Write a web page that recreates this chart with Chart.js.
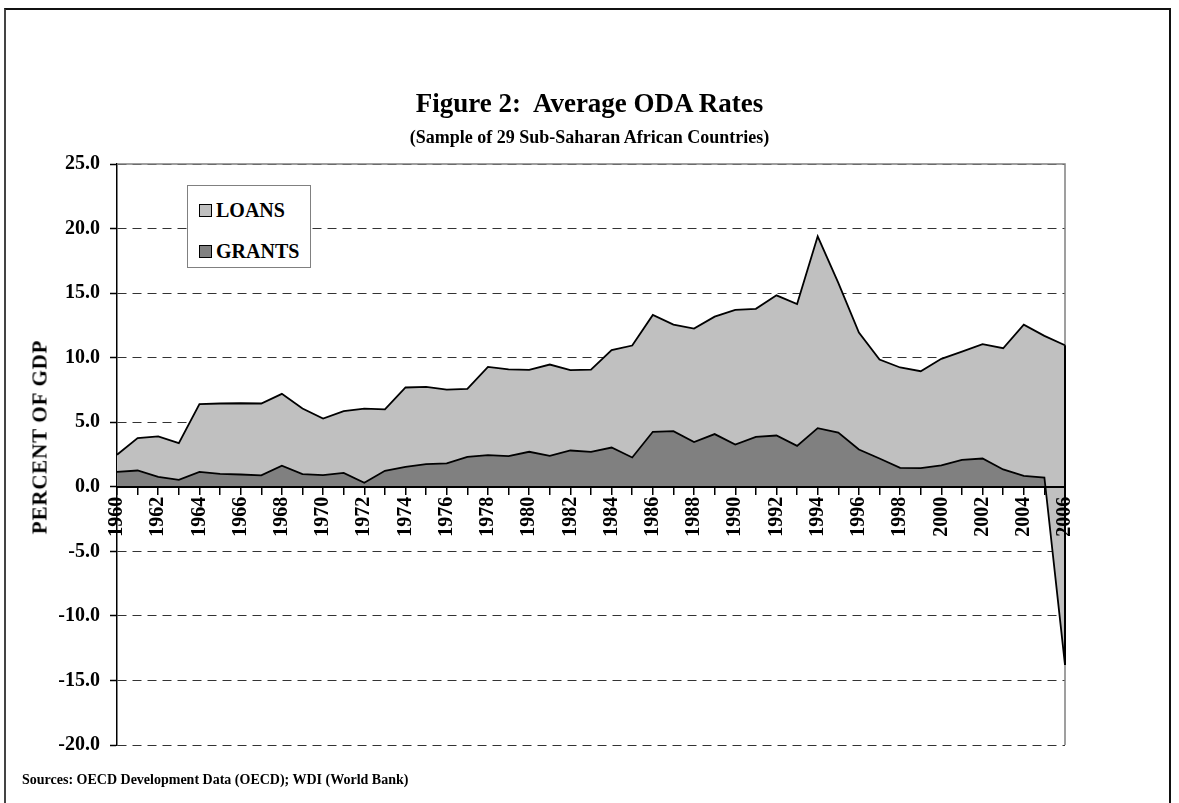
<!DOCTYPE html>
<html>
<head>
<meta charset="utf-8">
<script src="https://cdn.jsdelivr.net/npm/chart.js"></script>
<style>
  html, body { margin: 0; padding: 0; background: #fff; }
  body { width: 1179px; height: 803px; overflow: hidden; position: relative; font-family: "Liberation Serif", "Times New Roman", serif; font-weight: bold; color: #000; }
  #frame { position: absolute; left: 4px; top: 8px; width: 1167px; height: 900px; border: 2px solid #111; border-left-color: #444; box-sizing: border-box; }
  #chart { position: absolute; left: 0; top: 0; }
  .txt { position: absolute; white-space: nowrap; }
  #title { left: 0; width: 1179px; text-align: center; top: 90px; font-size: 27px; line-height: 27px; }
  #subtitle { left: 0; width: 1179px; text-align: center; top: 128px; font-size: 18px; line-height: 18px; }
  #ytitle { left: 40px; top: 437px; font-size: 21px; line-height: 21px; letter-spacing: 0.8px; transform: translate(-50%, -50%) rotate(-90deg); }
  #sources { left: 22px; top: 773px; font-size: 14px; line-height: 14px; }
  #legend { position: absolute; left: 187px; top: 185px; width: 124px; height: 83px; box-sizing: border-box; border: 1px solid #808080; background: #fff; }
  .item { position: absolute; left: 11px; font-size: 20px; line-height: 20px; }
  .sw { display: inline-block; width: 13px; height: 13px; border: 1px solid #000; box-sizing: border-box; margin-right: 4px; vertical-align: 0px; }
</style>
</head>
<body>
<div id="frame"></div>
<canvas id="chart" width="1179" height="803"></canvas>
<div class="txt" id="title">Figure 2:&nbsp; Average ODA Rates</div>
<div class="txt" id="subtitle">(Sample of 29 Sub-Saharan African Countries)</div>
<div class="txt" id="ytitle">PERCENT OF GDP</div>
<div class="txt" id="sources">Sources: OECD Development Data (OECD); WDI (World Bank)</div>
<div id="legend">
  <div class="item" style="top:14px"><span class="sw" style="background:#c0c0c0"></span>LOANS</div>
  <div class="item" style="top:55px"><span class="sw" style="background:#808080"></span>GRANTS</div>
</div>
<script>
// years 1960-2006
const years = [];
for (let y = 1960; y <= 2006; y++) years.push(String(y));

// grants, percent of GDP (bottom layer)
const grants = [
  1.16, 1.26, 0.77, 0.54, 1.16, 1.00, 0.95, 0.88, 1.63, 0.98,
  0.90, 1.08, 0.31, 1.24, 1.55, 1.75, 1.81, 2.32, 2.45, 2.38,
  2.71, 2.40, 2.81, 2.71, 3.04, 2.27, 4.26, 4.31, 3.46, 4.08,
  3.27, 3.87, 3.97, 3.17, 4.54, 4.20, 2.89, 2.19, 1.47, 1.44,
  1.65, 2.09, 2.19, 1.34, 0.85, 0.72, -13.8
];

// loans, percent of GDP (stacked on grants)
const loans = [
  1.32, 2.51, 3.13, 2.84, 5.24, 5.45, 5.52, 5.57, 5.57, 5.08,
  4.39, 4.78, 5.75, 4.76, 6.14, 5.99, 5.72, 5.26, 6.84, 6.72,
  6.35, 7.07, 6.22, 6.37, 7.54, 8.67, 9.05, 8.25, 8.79, 9.10,
  10.43, 9.91, 10.86, 10.99, 14.86, 11.60, 9.06, 7.67, 7.77, 7.51,
  8.26, 8.38, 8.85, 9.39, 11.71, 10.97, 24.76
];

const yMin = -20, yMax = 25, yStep = 5;
const FONT = '"Liberation Serif", "Times New Roman", serif';

// gray plot frame (top + right) and closing edge of the last area
const framePlugin = {
  id: 'frame',
  beforeDatasetsDraw(chart) {
    const a = chart.chartArea, ctx = chart.ctx;
    ctx.save();
    ctx.strokeStyle = '#808080';
    ctx.lineWidth = 1.5;
    ctx.beginPath();
    ctx.moveTo(a.left, a.top);
    ctx.lineTo(a.right, a.top);
    ctx.lineTo(a.right, a.bottom);
    ctx.stroke();
    ctx.restore();
  },
  afterDatasetsDraw(chart) {
    const g = chart.getDatasetMeta(0).data, l = chart.getDatasetMeta(1).data;
    const pg = g[g.length - 1], pl = l[l.length - 1];
    const ctx = chart.ctx;
    ctx.save();
    ctx.strokeStyle = '#000';
    ctx.lineWidth = 2;
    ctx.beginPath();
    ctx.moveTo(pl.x, pl.y);
    ctx.lineTo(pg.x, pg.y);
    ctx.stroke();
    ctx.restore();
  }
};

new Chart(document.getElementById('chart').getContext('2d'), {
  type: 'line',
  data: {
    labels: years,
    datasets: [
      {
        label: 'GRANTS',
        data: grants,
        borderColor: '#000',
        borderWidth: 1.8,
        pointRadius: 0,
        tension: 0,
        fill: { target: 'origin', above: '#808080', below: '#c0c0c0' }
      },
      {
        label: 'LOANS',
        data: loans,
        borderColor: '#000',
        borderWidth: 1.8,
        pointRadius: 0,
        tension: 0,
        backgroundColor: '#c0c0c0',
        fill: '-1'
      }
    ]
  },
  options: {
    responsive: false,
    animation: false,
    layout: { padding: { top: 164, right: 114, bottom: 58, left: 0 } },
    plugins: { legend: { display: false }, tooltip: { enabled: false } },
    scales: {
      x: {
        type: 'category',
        position: { y: 0 },
        offset: false,
        grid: { z: 1, offset: false, drawOnChartArea: false, tickLength: 7, color: '#000', lineWidth: 1.5 },
        border: { z: 1, color: '#000', width: 2 },
        ticks: {
          z: 1,
          autoSkip: false, maxRotation: 90, minRotation: 90, padding: 3,
          color: '#000', font: { family: FONT, size: 20, weight: 'bold' },
          callback: (v, i) => (i % 2 === 0 ? years[i] : '')
        }
      },
      y: {
        stacked: 'single',
        min: yMin, max: yMax,
        afterFit: s => { s.width = 117; },
        grid: { color: '#333', lineWidth: 1, tickLength: 7, tickColor: '#000', tickWidth: 1.5 },
        border: { color: '#000', width: 1.5, dash: [9, 6] },
        ticks: {
          stepSize: yStep, padding: 10, color: '#000',
          font: { family: FONT, size: 20, weight: 'bold' },
          callback: v => v.toFixed(1)
        }
      }
    }
  },
  plugins: [framePlugin]
});
</script>
</body>
</html>
